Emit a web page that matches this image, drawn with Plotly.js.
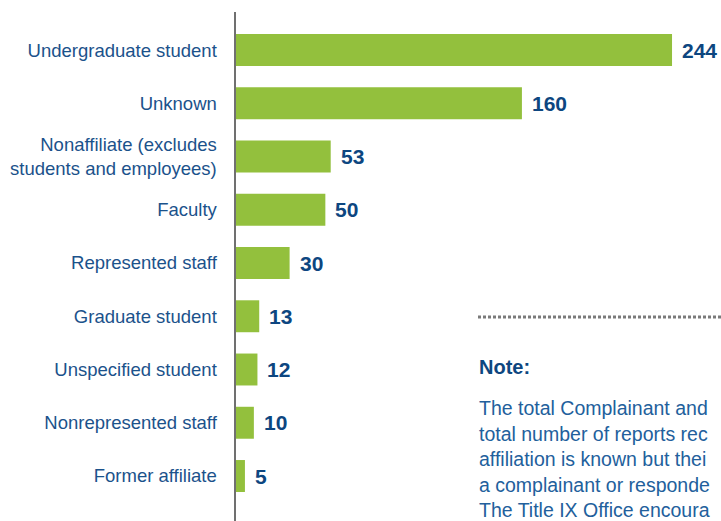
<!DOCTYPE html>
<html>
<head>
<meta charset="utf-8">
<script src="https://cdn.plot.ly/plotly-3.0.1.min.js"></script>
<style>
  html, body { margin: 0; padding: 0; background: #ffffff; }
  #chart { width: 721px; height: 521px; }
</style>
</head>
<body>
<div id="chart"></div>
<script>
// ---- data ----
const categories = [
  "Undergraduate student",
  "Unknown",
  "Nonaffiliate (excludes<br>students and employees)",
  "Faculty",
  "Represented staff",
  "Graduate student",
  "Unspecified student",
  "Nonrepresented staff",
  "Former affiliate"
];
const counts = [244, 160, 53, 50, 30, 13, 12, 10, 5];

const noteTitle = "Note:";
// visible portion of the note (the reference crops it at the right edge)
const noteLines = [
  "The total Complainant and",
  "total number of reports rec",
  "affiliation is known but thei",
  "a complainant or responde",
  "The Title IX Office encoura"
];

// ---- styles ----
const barColor = "#93c03d";
const labelColor = "#1b528b";
const valueColor = "#0d4680";
const noteColor = "#22609c";
const FONT = "Liberation Sans, Arial, Helvetica, sans-serif";

// plot area in pixels (for paper-coordinate decorations)
const W = 721, H = 521, ML = 236, MT = 12;
const PW = W - ML, PH = H - MT;
const px2x = px => (px - ML) / PW;
const py2y = py => (H - py) / PH;

const trace = {
  type: "bar",
  orientation: "h",
  y: categories,
  x: counts,
  marker: { color: barColor, line: { width: 0 } },
  hoverinfo: "none"
};

const valueAnnotations = categories.map((c, i) => ({
  x: counts[i], y: c, xref: "x", yref: "y",
  text: String(counts[i]),
  showarrow: false, xanchor: "left", yanchor: "middle",
  xshift: 8,
  font: { family: FONT, size: 21, color: valueColor, weight: "bold" }
}));

const noteAnnotations = [{
  x: px2x(477), y: py2y(367), xref: "paper", yref: "paper",
  text: "<b>" + noteTitle + "</b>", showarrow: false,
  xanchor: "left", yanchor: "middle",
  font: { family: FONT, size: 20, color: valueColor }
}].concat(noteLines.map((t, i) => ({
  x: px2x(477), y: py2y(408 + 25.5 * i), xref: "paper", yref: "paper",
  text: t, showarrow: false, xanchor: "left", yanchor: "middle",
  font: { family: FONT, size: 19.5, color: noteColor }
})));

const layout = {
  width: W, height: H,
  margin: { l: ML, r: 0, t: MT, b: 0, pad: 0 },
  paper_bgcolor: "#ffffff",
  plot_bgcolor: "#ffffff",
  showlegend: false,
  bargap: 0.4,
  xaxis: {
    range: [0, PW / 1.787],
    showgrid: false, zeroline: false, showline: false,
    showticklabels: false, ticks: "", fixedrange: true
  },
  yaxis: {
    type: "category",
    categoryorder: "array",
    categoryarray: categories,
    range: [8.845, -0.714],
    showgrid: false, zeroline: false,
    showline: true, linecolor: "#707070", linewidth: 2.5,
    ticks: "outside", ticklen: 13, tickcolor: "rgba(0,0,0,0)",
    tickfont: { family: FONT, size: 18.5, color: labelColor },
    fixedrange: true
  },
  shapes: [{
    type: "line", xref: "paper", yref: "paper",
    x0: px2x(478), x1: 1.02, y0: py2y(317), y1: py2y(317),
    line: { color: "#7a7a7a", width: 3, dash: "3px,2px" }
  }],
  annotations: valueAnnotations.concat(noteAnnotations)
};

Plotly.newPlot("chart", [trace], layout, { displayModeBar: false, staticPlot: true });
</script>
</body>
</html>
